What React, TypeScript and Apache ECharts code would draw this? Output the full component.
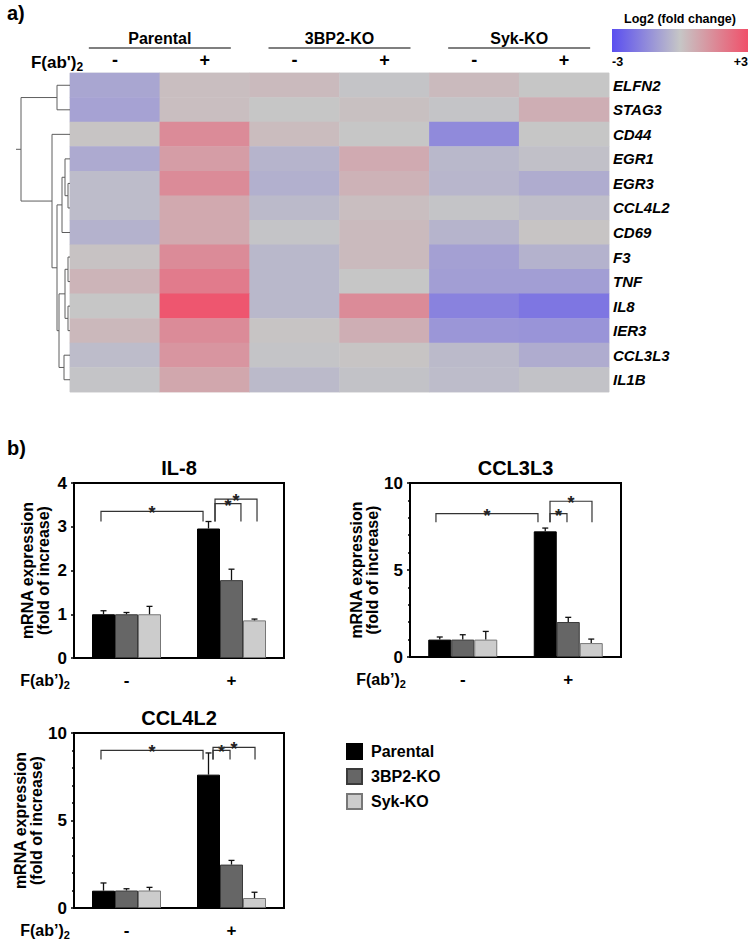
import React, { useEffect, useRef } from "react";
import * as echarts from "echarts";

// ---------- Heatmap data ----------
const genes = ["ELFN2", "STAG3", "CD44", "EGR1", "EGR3", "CCL4L2", "CD69", "F3", "TNF", "IL8", "IER3", "CCL3L3", "IL1B"];
const conditionLabels = ["-", "+", "-", "+", "-", "+"];
const groupLabels = ["Parental", "3BP2-KO", "Syk-KO"];
// log2 fold change; columns: Parental -, Parental +, 3BP2-KO -, 3BP2-KO +, Syk-KO -, Syk-KO +
const logFC = [
  [-0.8, 0.2, 0.3, -0.05, 0.3, 0],
  [-0.9, 0.2, 0, 0.15, -0.05, 0.6],
  [0.05, 1.5, 0.25, 0, -1.5, 0],
  [-0.7, 1.05, -0.45, 0.7, -0.35, -0.15],
  [-0.25, 1.5, -0.55, 0.5, -0.4, -0.65],
  [-0.25, 0.75, -0.3, 0.2, -0.05, -0.2],
  [-0.5, 0.75, -0.05, 0.3, -0.45, 0.05],
  [0.1, 1.5, -0.35, 0.3, -0.95, -0.5],
  [0.45, 1.9, -0.35, 0, -1.0, -1.0],
  [0, 2.85, -0.35, 1.5, -1.7, -2.0],
  [0.35, 1.5, 0.05, 0.6, -1.2, -1.25],
  [-0.25, 1.25, -0.05, 0.05, -0.3, -0.65],
  [-0.05, 0.8, -0.3, -0.1, -0.25, -0.1],
];
const heatColors = ["#5a4ef0", "#c6c6c6", "#f0506a"];
const colorMin = -3;
const colorMax = 3;

// dendrogram merges (leaf indices 0..12, new clusters from 13): [a, b, height]
const dendroMerges = [
  [0, 1, 13],
  [4, 5, 2],
  [3, 14, 5],
  [15, 6, 8],
  [7, 8, 2],
  [9, 10, 2],
  [17, 18, 5],
  [11, 12, 6],
  [19, 20, 11],
  [16, 21, 13],
  [2, 22, 18],
  [13, 23, 49],
];
const dendroRootStub = 54;

// ---------- Bar chart data ----------
const strains = ["Parental", "3BP2-KO", "Syk-KO"];
const treatment = ["-", "+"];
const il8Means = [[1.0, 2.96], [1.0, 1.78], [1.0, 0.86]];
const il8Errs = [[0.08, 0.16], [0.04, 0.25], [0.18, 0.03]];
const il8Brackets = [[0.257, 1.229, 3.35, 3.12], [1.343, 1.59, 3.53, 3.12], [1.343, 1.743, 3.63, 3.12]];
const ccl3l3Means = [[1.0, 7.22], [1.0, 2.01], [1.0, 0.8]];
const ccl3l3Errs = [[0.15, 0.19], [0.28, 0.27], [0.47, 0.23]];
const ccl3l3Brackets = [[0.246, 1.213, 8.24, 7.74], [1.327, 1.488, 8.24, 7.74], [1.327, 1.725, 8.95, 7.74]];
const ccl4l2Means = [[0.99, 7.62], [1.0, 2.48], [1.0, 0.57]];
const ccl4l2Errs = [[0.44, 1.24], [0.1, 0.24], [0.18, 0.33]];
const ccl4l2Brackets = [[0.257, 1.229, 9.01, 8.48], [1.324, 1.486, 9.01, 8.48], [1.324, 1.724, 9.18, 8.48]];

const FONT = "Liberation Sans, Arial, sans-serif";
const strainColors = ["#000000", "#666666", "#cccccc"];
const strainBorders = ["#000000", "#3a3a3a", "#777777"];
const BAR_W = 23;

export default function App() {
  const ref = useRef<HTMLDivElement>(null);
  useEffect(() => {
    document.body.style.margin = "0";
    const chart = echarts.init(ref.current!, null, { renderer: "svg" });

    // heatmap data
    const heatData: number[][] = [];
    logFC.forEach((row, r) => row.forEach((v, c) => heatData.push([c, r, v])));

    // dendrogram segments
    const pos: number[] = genes.map((_, i) => i);
    const hgt: number[] = genes.map(() => 0);
    const dendroLines: any[] = [];
    dendroMerges.forEach(([a, b, h]) => {
      dendroLines.push({
        coords: [
          [hgt[a], pos[a]],
          [h, pos[a]],
          [h, pos[b]],
          [hgt[b], pos[b]],
        ],
      });
      pos.push((pos[a] + pos[b]) / 2);
      hgt.push(h);
    });
    const rootIdx = pos.length - 1;
    dendroLines.push({ coords: [[hgt[rootIdx], pos[rootIdx]], [dendroRootStub, pos[rootIdx]]] });

    const bars = [
      { title: "IL-8", max: 4, interval: 1, minor: false, means: il8Means, errs: il8Errs, brackets: il8Brackets, left: 74, top: 483, width: 210, height: 175 },
      { title: "CCL3L3", max: 10, interval: 5, minor: true, means: ccl3l3Means, errs: ccl3l3Errs, brackets: ccl3l3Brackets, left: 410, top: 483, width: 211, height: 174 },
      { title: "CCL4L2", max: 10, interval: 5, minor: true, means: ccl4l2Means, errs: ccl4l2Errs, brackets: ccl4l2Brackets, left: 74, top: 733, width: 210, height: 175 },
    ];

    const grid: any[] = [
      { left: 70, top: 73, width: 539, height: 319, show: true, borderColor: "#e2e2e2", borderWidth: 1, backgroundColor: "transparent" },
      { left: 16, top: 73, width: 54, height: 319 },
    ];
    const xAxis: any[] = [
      {
        type: "category", gridIndex: 0, position: "top", data: conditionLabels,
        axisLine: { show: false }, axisTick: { show: false },
        axisLabel: { margin: 4, fontFamily: FONT, fontWeight: "bold", fontSize: 18, color: "#000" },
      },
      {
        type: "category", gridIndex: 0, position: "top", offset: 24, data: groupLabels,
        axisLine: { show: false }, axisTick: { show: false },
        axisLabel: { margin: 3, fontFamily: FONT, fontWeight: "bold", fontSize: 16, color: "#000" },
      },
      { type: "value", gridIndex: 1, min: 0, max: dendroRootStub, inverse: true, show: false },
    ];
    const yAxis: any[] = [
      {
        type: "category", gridIndex: 0, position: "right", inverse: true, data: genes,
        axisLine: { show: false }, axisTick: { show: false },
        axisLabel: { margin: 4, fontFamily: FONT, fontWeight: "bold", fontStyle: "italic", fontSize: 15, color: "#000" },
      },
      { type: "value", gridIndex: 1, min: -0.5, max: genes.length - 0.5, inverse: true, show: false },
    ];
    const series: any[] = [
      {
        type: "heatmap", xAxisIndex: 0, yAxisIndex: 0, data: heatData,
        itemStyle: { borderWidth: 0 }, emphasis: { disabled: true },
      },
      {
        type: "lines", coordinateSystem: "cartesian2d", xAxisIndex: 2, yAxisIndex: 1,
        polyline: true, silent: true, data: dendroLines,
        lineStyle: { color: "#5e5e5e", width: 1, opacity: 1 },
      },
    ];
    const graphic: any[] = [
      { type: "text", x: 7, y: 13, style: { text: "a)", font: `bold 20px ${FONT}`, fill: "#000", verticalAlign: "middle" } },
      { type: "text", x: 7, y: 448, style: { text: "b)", font: `bold 20px ${FONT}`, fill: "#000", verticalAlign: "middle" } },
      {
        type: "text", x: 57, y: 62,
        style: {
          text: "F(ab')" + "{s|2}", font: `bold 17px ${FONT}`, fill: "#000", align: "center", verticalAlign: "middle",
          rich: { s: { fontSize: 12, fontWeight: "bold", fontFamily: FONT, padding: [9, 0, 0, 0] } },
        },
      },
      { type: "text", x: 680, y: 19, style: { text: "Log2 (fold change)", font: `bold 12.5px ${FONT}`, fill: "#000", align: "center", verticalAlign: "middle" } },
      {
        type: "rect", shape: { x: 612, y: 29, width: 136, height: 23 },
        style: {
          fill: new echarts.graphic.LinearGradient(0, 0, 1, 0, heatColors.map((c, i) => ({ offset: i / (heatColors.length - 1), color: c }))),
        },
      },
      { type: "text", x: 612, y: 62, style: { text: String(colorMin), font: `bold 12.5px ${FONT}`, fill: "#000", align: "left", verticalAlign: "middle" } },
      { type: "text", x: 748, y: 62, style: { text: "+" + colorMax, font: `bold 12.5px ${FONT}`, fill: "#000", align: "right", verticalAlign: "middle" } },
    ];
    // group underlines
    groupLabels.forEach((_, g) => {
      const cx = 70 + (539 / 3) * (g + 0.5);
      graphic.push({ type: "line", shape: { x1: cx - 71, y1: 48, x2: cx + 71, y2: 48 }, style: { stroke: "#000", lineWidth: 1.2 } });
    });

    bars.forEach((b) => {
      const gi = grid.length;
      grid.push({ left: b.left, top: b.top, width: b.width, height: b.height, show: true, borderColor: "#000", borderWidth: 2, backgroundColor: "transparent" });
      const catX = xAxis.length;
      xAxis.push({
        type: "category", gridIndex: gi, data: treatment,
        axisLine: { show: false }, axisTick: { show: false },
        axisLabel: { margin: 14, fontFamily: FONT, fontWeight: "bold", fontSize: 17, color: "#000" },
      });
      const valX = xAxis.length;
      xAxis.push({ type: "value", gridIndex: gi, min: 0, max: 2, show: false });
      const yi = yAxis.length;
      yAxis.push({
        type: "value", gridIndex: gi, min: 0, max: b.max, interval: b.interval,
        name: "mRNA expression\n(fold of increase)", nameLocation: "middle", nameGap: 23,
        nameTextStyle: { fontFamily: FONT, fontWeight: "bold", fontSize: 16, color: "#000", lineHeight: 16 },
        axisLine: { show: false },
        axisTick: { show: true, length: 3, lineStyle: { color: "#000", width: 1.5 } },
        minorTick: { show: b.minor, splitNumber: 5, length: 2, lineStyle: { color: "#000", width: 1.5 } },
        splitLine: { show: false },
        axisLabel: { margin: 7, fontFamily: FONT, fontWeight: "bold", fontSize: 17, color: "#000" },
      });
      strains.forEach((s, k) => {
        series.push({
          type: "bar", name: s, xAxisIndex: catX, yAxisIndex: yi, data: b.means[k],
          barWidth: BAR_W, barGap: "0%",
          itemStyle: { color: strainColors[k], borderColor: strainBorders[k], borderWidth: 1 },
          emphasis: { disabled: true },
        });
      });
      const errData: number[][] = [];
      strains.forEach((_, k) => treatment.forEach((__, c) => errData.push([c, b.means[k][c], b.errs[k][c], k])));
      series.push({
        type: "custom", xAxisIndex: catX, yAxisIndex: yi, data: errData, z: 5, silent: true,
        renderItem: (_p: any, api: any) => {
          const p = api.coord([api.value(0), api.value(1)]);
          const t = api.coord([api.value(0), api.value(1) + api.value(2)]);
          const x = p[0] + (api.value(3) - 1) * BAR_W;
          const st = { stroke: "#111", lineWidth: 1.3 };
          return {
            type: "group",
            children: [
              { type: "line", shape: { x1: x, y1: p[1], x2: x, y2: t[1] }, style: st },
              { type: "line", shape: { x1: x - 3, y1: t[1], x2: x + 3, y2: t[1] }, style: st },
            ],
          };
        },
      });
      series.push({
        type: "custom", xAxisIndex: valX, yAxisIndex: yi, data: b.brackets, z: 6, silent: true,
        renderItem: (_p: any, api: any) => {
          const a = api.coord([api.value(0), api.value(3)]);
          const bb = api.coord([api.value(0), api.value(2)]);
          const c = api.coord([api.value(1), api.value(2)]);
          const d = api.coord([api.value(1), api.value(3)]);
          return {
            type: "group",
            children: [
              { type: "polyline", shape: { points: [a, bb, c, d] }, style: { stroke: "#333", fill: "none", lineWidth: 1.2 } },
              {
                type: "text", x: (bb[0] + c[0]) / 2, y: bb[1] + 2,
                style: { text: "*", font: `bold 18px ${FONT}`, fill: "#222", align: "center", verticalAlign: "middle" },
              },
            ],
          };
        },
      });
      graphic.push({
        type: "text", x: b.left + b.width / 2, y: b.top - 15,
        style: { text: b.title, font: `bold 20px ${FONT}`, fill: "#000", align: "center", verticalAlign: "middle" },
      });
      graphic.push({
        type: "text", x: b.left - 29, y: b.top + b.height + 22,
        style: {
          text: "F(ab\u2019)" + "{s|2}", font: `bold 16px ${FONT}`, fill: "#000", align: "center", verticalAlign: "middle",
          rich: { s: { fontSize: 11, fontWeight: "bold", fontFamily: FONT, padding: [9, 0, 0, 0] } },
        },
      });
    });

    chart.setOption({
      animation: false,
      backgroundColor: "#fff",
      textStyle: { fontFamily: FONT },
      grid,
      xAxis,
      yAxis,
      visualMap: {
        type: "continuous", show: false, min: colorMin, max: colorMax, dimension: 2, seriesIndex: 0,
        inRange: { color: heatColors },
      },
      legend: {
        data: strains, orient: "vertical", left: 341, top: 738, itemWidth: 15, itemHeight: 15, itemGap: 8,
        icon: "rect", selectedMode: false,
        textStyle: { fontFamily: FONT, fontWeight: "bold", fontSize: 16, color: "#000", padding: [0, 0, 0, 4] },
      },
      series,
      graphic,
    });
    return () => chart.dispose();
  }, []);
  return <div ref={ref} style={{ width: 750, height: 945 }} />;
}
